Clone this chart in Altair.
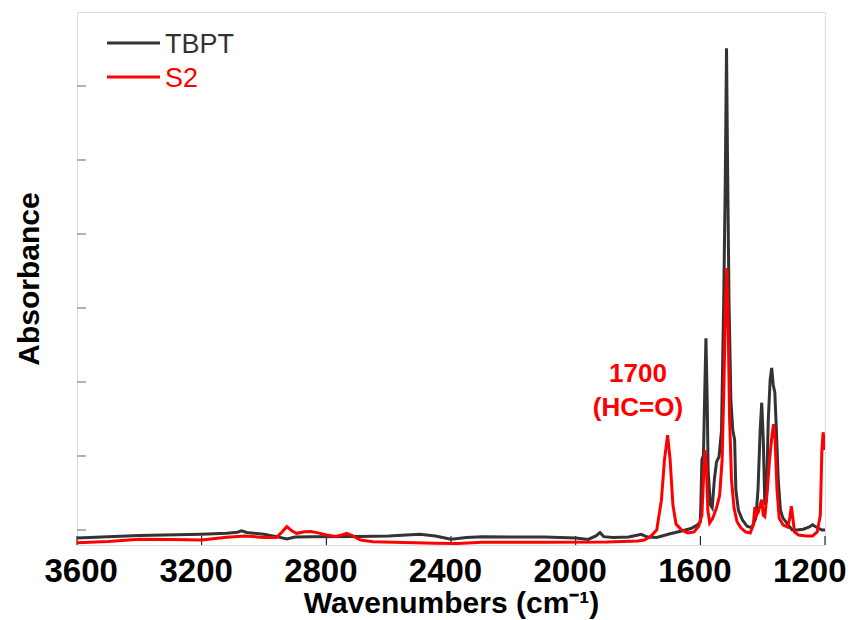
import altair as alt
import pandas as pd

# ---------------- data ----------------
SERIES = ["TBPT", "S2"]
COLORS = ["#333333", "#ff0000"]

TBPT_WN = [3600, 3400, 3200, 3120, 3085, 3072, 3055, 3000, 2960, 2927, 2900, 2850, 2700,
           2600, 2500, 2450, 2400, 2350, 2300, 2200, 2100, 2000, 1960, 1935, 1922, 1910,
           1880, 1830, 1800, 1790, 1770, 1740, 1700, 1660, 1630, 1610, 1600, 1598, 1595,
           1590, 1585, 1582, 1578, 1575, 1568, 1562, 1555, 1548, 1540, 1532, 1525, 1520,
           1516, 1513, 1508, 1502, 1496, 1490, 1486, 1478, 1465, 1450, 1435, 1422, 1415,
           1408, 1403, 1398, 1393, 1388, 1382, 1376, 1371, 1366, 1361, 1356, 1350, 1343,
           1335, 1325, 1315, 1305, 1290, 1270, 1250, 1240, 1225, 1210, 1200]
TBPT_ABS = [-0.011, -0.0074, -0.0058, -0.0045, -0.003, -0.001, -0.0034, -0.0058, -0.009,
            -0.012, -0.0095, -0.009, -0.0088, -0.0081, -0.0058, -0.0081, -0.0126, -0.0101,
            -0.009, -0.0095, -0.0095, -0.011, -0.0128, -0.0081, -0.0036, -0.009, -0.0101,
            -0.0095, -0.0068, -0.0058, -0.0095, -0.01, -0.0054, -0.0014, 0.002, 0.0068,
            0.011, 0.04, 0.095, 0.101, 0.203, 0.259, 0.176, 0.081, 0.034, 0.03, 0.068,
            0.092, 0.099, 0.135, 0.31, 0.47, 0.651, 0.51, 0.31, 0.176, 0.135, 0.122, 0.054,
            0.027, 0.0135, 0.005, 0.003, 0.016, 0.054, 0.135, 0.172, 0.122, 0.034, 0.04,
            0.149, 0.203, 0.219, 0.196, 0.186, 0.135, 0.068, 0.027, 0.016, 0.011, 0.005,
            0.0, 0.0, 0.001, 0.004, 0.007, 0.003, 0.0, 0.0]

S2_WN = [3600, 3500, 3400, 3300, 3200, 3120, 3060, 3000, 2960, 2945, 2927, 2910, 2895,
         2870, 2850, 2830, 2800, 2770, 2750, 2735, 2715, 2690, 2650, 2550, 2450, 2380,
         2300, 2100, 1900, 1800, 1780, 1760, 1740, 1725, 1715, 1705, 1697, 1688, 1678,
         1660, 1640, 1620, 1605, 1595, 1590, 1585, 1580, 1576, 1570, 1560, 1548, 1538,
         1530, 1524, 1519, 1515, 1511, 1506, 1500, 1492, 1482, 1470, 1455, 1440, 1430,
         1425, 1420, 1414, 1408, 1403, 1398, 1393, 1385, 1378, 1370, 1365, 1360, 1354,
         1347, 1335, 1320, 1313, 1308, 1303, 1298, 1285, 1260, 1240, 1225, 1215, 1210,
         1206, 1203, 1200]
S2_ABS = [-0.0172, -0.0155, -0.0126, -0.013, -0.0135, -0.0099, -0.0081, -0.0101, -0.0101,
          -0.004, 0.0045, -0.0014, -0.0045, -0.0023, -0.002, -0.0036, -0.0068, -0.0088,
          -0.0068, -0.0045, -0.0081, -0.0135, -0.0158, -0.0169, -0.018, -0.0182, -0.0166,
          -0.0166, -0.0162, -0.0149, -0.0135, -0.009, 0.0, 0.04, 0.095, 0.128, 0.095,
          0.034, 0.008, 0.0, -0.004, -0.0027, 0.0054, 0.02, 0.068, 0.108, 0.081, 0.027,
          0.0095, 0.016, 0.03, 0.047, 0.095, 0.203, 0.31, 0.354, 0.284, 0.149, 0.068,
          0.03, 0.011, 0.003, -0.0027, -0.004, 0.007, 0.031, 0.02, 0.024, 0.034, 0.041,
          0.02, 0.018, 0.054, 0.095, 0.128, 0.143, 0.122, 0.054, 0.016, 0.007, 0.004,
          0.016, 0.032, 0.016, -0.0027, -0.0068, -0.0081, -0.0081, -0.0027, 0.02, 0.108,
          0.132, 0.122, 0.108]

X_TICKS = [3600, 3200, 2800, 2400, 2000, 1600, 1200]
Y_TICKS = [0.0, 0.1, 0.2, 0.3, 0.4, 0.5, 0.6]

ANNOT_TEXT = ["1700", "(HC=O)"]
ANNOT_WN = [1800, 1800]
ANNOT_ABS = [0.211, 0.1655]

# ---------------- tables ----------------
df = pd.concat([
    pd.DataFrame({"wn": TBPT_WN, "abs": TBPT_ABS, "series": SERIES[0]}),
    pd.DataFrame({"wn": S2_WN, "abs": S2_ABS, "series": SERIES[1]}),
])
xt = pd.DataFrame({"wn": X_TICKS})
yt = pd.DataFrame({"abs": Y_TICKS})
ann = pd.DataFrame({"wn": ANNOT_WN, "abs": ANNOT_ABS, "t": ANNOT_TEXT})

FONT = "Liberation Sans"
W, H = 748, 533

xscale = alt.Scale(domain=[3600, 1200], nice=False, zero=False)
yscale = alt.Scale(domain=[-0.0203, 0.70], nice=False, zero=False)
cscale = alt.Scale(domain=SERIES, range=COLORS)

xaxis = alt.Axis(values=X_TICKS, format="d", ticks=False, domain=False, grid=False,
                 labelFont=FONT, labelFontSize=33, labelFontWeight="bold", labelColor="black",
                 labelPadding=10, labelFlush=True, labelFlushOffset=27, labelOffset=-6,
                 title="Wavenumbers (cm⁻¹)", titleFont=FONT, titleFontSize=30,
                 titleFontWeight="bold", titleColor="black", titlePadding=0)
yaxis = alt.Axis(labels=False, ticks=False, domain=False, grid=False,
                 title="Absorbance", titleFont=FONT, titleFontSize=30,
                 titleFontWeight="bold", titleColor="black", titlePadding=33)

base = alt.Chart(df)

def series_line(name):
    return base.transform_filter(alt.datum.series == name).mark_line(
        strokeWidth=3, clip=True
    ).encode(
        x=alt.X("wn:Q", scale=xscale, axis=xaxis),
        y=alt.Y("abs:Q", scale=yscale, axis=yaxis),
        color=alt.Color("series:N", scale=cscale, legend=None),
        order=alt.Order("wn:Q", sort="descending"),
    )

xticks = alt.Chart(xt).mark_rule(color="black", strokeWidth=1).encode(
    x=alt.X("wn:Q", scale=xscale), y=alt.value(H), y2=alt.value(H - 9))
yticks = alt.Chart(yt).mark_rule(color="#999999", strokeWidth=1.5).encode(
    y=alt.Y("abs:Q", scale=yscale), x=alt.value(0), x2=alt.value(9))

annot = alt.Chart(ann).mark_text(font=FONT, fontSize=26, fontWeight="bold",
                                  color="#ff0000", align="center", baseline="middle").encode(
    x=alt.X("wn:Q", scale=xscale), y=alt.Y("abs:Q", scale=yscale), text="t:N")

legend_layers = []
for i, (name, col) in enumerate(zip(SERIES, COLORS)):
    ly = 31 + i * 34
    ld = pd.DataFrame({"series": [name]})
    legend_layers.append(alt.Chart(ld).mark_rule(strokeWidth=3).encode(
        x=alt.value(30), x2=alt.value(83), y=alt.value(ly),
        color=alt.Color("series:N", scale=cscale, legend=None)))
    legend_layers.append(alt.Chart(ld).mark_text(font=FONT, fontSize=27, align="left",
                                                  baseline="alphabetic").encode(
        x=alt.value(88), y=alt.value(ly + 10), text="series:N",
        color=alt.Color("series:N", scale=cscale, legend=None)))

chart = alt.layer(
    xticks, yticks, series_line("TBPT"), series_line("S2"), annot, *legend_layers
).properties(
    width=W, height=H,
    autosize=alt.AutoSizeParams(type="none"),
    padding={"left": 69, "top": 4, "right": 28, "bottom": 74},
).configure_view(stroke="#999999", strokeWidth=1.5).configure(background="white")

chart.save("out.html", embed_options={"renderer": "svg", "actions": False})
